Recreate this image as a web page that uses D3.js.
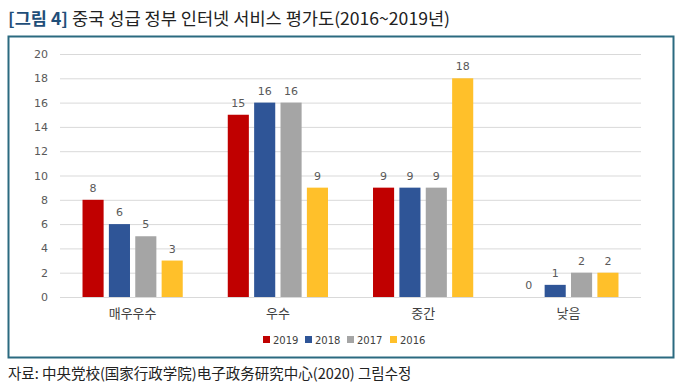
<!DOCTYPE html>
<html><head><meta charset="utf-8">
<script src="https://cdn.jsdelivr.net/npm/d3@7"></script>
<style>body{margin:0;background:#fff}svg{display:block}</style>
</head><body>
<svg id="c" width="685" height="390"></svg>
<script>
const categories = ["매우우수","우수","중간","낮음"];
const seriesNames = ["2019","2018","2017","2016"];
const v2019 = [8,15,9,0];
const v2018 = [6,16,9,1];
const v2017 = [5,16,9,2];
const v2016 = [3,9,18,2];
const yTicks = [0,2,4,6,8,10,12,14,16,18,20];
const colors = ["#c00000","#2f5597","#a5a5a5","#ffc02a"];
const values = [v2019,v2018,v2017,v2016];

const svg = d3.select("#c");
const korFont = "'Noto Sans CJK KR','Noto Sans',sans-serif";
const numFont = "'DejaVu Sans',Verdana,sans-serif";

// title
const t = svg.append("text").attr("x",8).attr("y",25).attr("font-family",korFont).attr("font-size",17);
t.append("tspan").attr("fill","#1f4e79").attr("font-weight","bold").text("[그림 4] ");
t.append("tspan").attr("fill","#222").text("중국 성급 정부 인터넷 서비스 평가도(2016~2019년)");
t.attr("textLength",442).attr("lengthAdjust","spacingAndGlyphs");

// border
svg.append("rect").attr("x",8.5).attr("y",36.5).attr("width",665).attr("height",321)
  .attr("fill","none").attr("stroke","#2b6a80").attr("stroke-width",2);

const x = d3.scaleBand().domain(categories).range([60,641]).paddingInner(0.31).paddingOuter(0.155);
const xi = d3.scaleBand().domain(seriesNames).range([0,x.bandwidth()]).paddingInner(0.2);
const y = d3.scaleLinear().domain([0,20]).range([297,54]);

// gridlines
svg.append("g").selectAll("line").data(yTicks.filter(d=>d>0)).join("line")
  .attr("x1",60).attr("x2",641).attr("y1",d=>y(d)+0.5).attr("y2",d=>y(d)+0.5)
  .attr("stroke","#d9d9d9").attr("stroke-width",1);

// y axis labels
const yAxis = d3.axisLeft(y).tickValues(yTicks).tickSize(0).tickPadding(0);
const ya = svg.append("g").attr("transform","translate(48,0)").call(yAxis);
ya.select(".domain").remove();
ya.selectAll("text").attr("font-family",numFont).attr("font-size",11).attr("fill","#595959");

// bars
const groups = svg.append("g").selectAll("g").data(seriesNames).join("g").attr("fill",(d,i)=>colors[i]);
groups.each(function(s,si){
  const g = d3.select(this);
  const data = categories.map((c,ci)=>({c,v:values[si][ci]}));
  g.selectAll("rect").data(data).join("rect")
    .attr("x",d=>x(d.c)+xi(s)).attr("width",xi.bandwidth())
    .attr("y",d=>y(d.v)).attr("height",d=>y(0)-y(d.v));
  svg.append("g").selectAll("text").data(data).join("text")
    .attr("x",d=>x(d.c)+xi(s)+xi.bandwidth()/2).attr("y",d=>y(d.v)-8)
    .attr("text-anchor","middle").attr("font-family",numFont).attr("font-size",11)
    .attr("fill","#595959").text(d=>d.v);
});

// x axis
const xAxis = d3.axisBottom(x).tickSize(0).tickPadding(12);
const xa = svg.append("g").attr("transform","translate(0,297)").call(xAxis);
xa.select(".domain").attr("stroke","#d9d9d9").attr("d","M60,0.5H641");
xa.selectAll("text").attr("font-family",korFont).attr("font-size",13).attr("fill","#404040");

// legend
const leg = svg.append("g").attr("transform","translate(263,344)");
const offs = [0,42,84,127];
seriesNames.forEach((s,i)=>{
  const g = leg.append("g").attr("transform",`translate(${offs[i]},0)`);
  g.append("rect").attr("x",0).attr("y",-8).attr("width",7).attr("height",7).attr("fill",colors[i]);
  g.append("text").attr("x",10).attr("y",0).attr("font-family",numFont).attr("font-size",10).attr("fill","#404040").text(s);
});

// source
svg.append("text").attr("x",8).attr("y",379).attr("font-family",korFont).attr("font-size",14.5).attr("fill","#222")
  .text("자료: 中央党校(国家行政学院)电子政务研究中心(2020) 그림수정");
</script>
</body></html>
